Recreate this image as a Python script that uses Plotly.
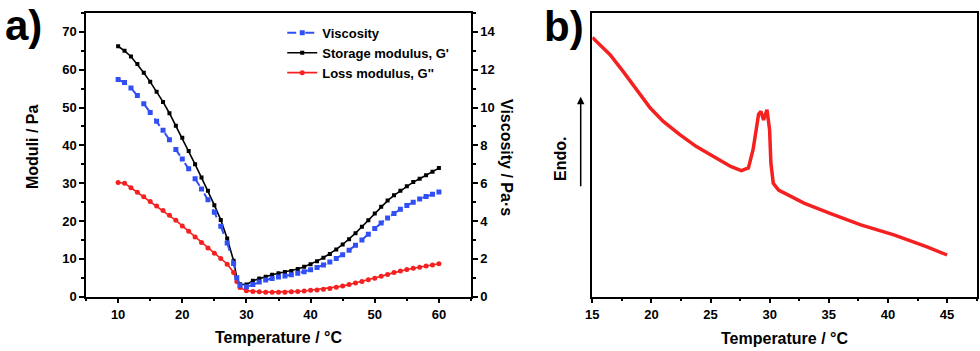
import plotly.graph_objects as go

# panel a) rheology vs temperature
temp = [10, 11, 12, 13, 14, 15, 16, 17, 18, 19, 20, 21, 22, 23, 24, 25, 26, 27, 28, 28.5, 29,
        30, 31, 32, 33, 34, 35, 36, 37, 38, 39, 40, 41, 42, 43, 44, 45, 46, 47, 48, 49, 50,
        51, 52, 53, 54, 55, 56, 57, 58, 59, 60]
storage = [66.2, 65.0, 63.5, 61.5, 59.2, 56.8, 54.2, 51.5, 48.5, 45.2, 42.0, 38.5, 35.0, 31.5,
           28.0, 24.2, 20.3, 15.4, 9.5, 5.0, 3.3, 3.2, 4.2, 4.8, 5.3, 5.8, 6.2, 6.5, 6.8, 7.3,
           7.9, 8.6, 9.4, 10.3, 11.3, 12.5, 13.8, 15.2, 16.8, 18.5, 20.2, 22.0, 23.8, 25.4,
           26.8, 28.0, 29.2, 30.3, 31.2, 32.1, 33.0, 34.0]
loss = [30.2, 30.0, 28.8, 27.6, 26.4, 25.2, 24.0, 22.8, 21.5, 20.2, 18.7, 17.3, 15.8, 14.3,
        12.9, 11.5, 10.1, 8.6, 6.4, 4.0, 2.4, 1.6, 1.4, 1.3, 1.2, 1.2, 1.2, 1.2, 1.3, 1.4, 1.5,
        1.7, 1.8, 2.0, 2.2, 2.5, 2.8, 3.2, 3.6, 4.0, 4.5, 4.9, 5.4, 5.9, 6.4, 6.8, 7.2, 7.5,
        7.8, 8.1, 8.4, 8.7]
viscosity = [11.48, 11.32, 11.04, 10.64, 10.2, 9.74, 9.28, 8.8, 8.3, 7.78, 7.28, 6.76, 6.24,
             5.7, 5.12, 4.46, 3.72, 2.84, 1.76, 1.0, 0.6, 0.52, 0.64, 0.78, 0.88, 0.96, 1.04,
             1.1, 1.16, 1.24, 1.32, 1.42, 1.54, 1.68, 1.84, 2.02, 2.22, 2.46, 2.72, 3.0, 3.3,
             3.6, 3.9, 4.16, 4.4, 4.62, 4.82, 5.0, 5.16, 5.3, 5.42, 5.54]

# panel b) DSC trace (arbitrary units)
dsc_temp = [15.0, 16.5, 17.6, 18.8, 19.9, 21.0, 22.4, 23.8, 25.2, 26.7, 27.6, 28.2, 28.6, 28.85,
            29.06, 29.26, 29.48, 29.77, 29.99, 30.1, 30.3, 30.75, 31.6, 32.9, 35.1, 37.7, 40.5,
            43.3, 45.0]
dsc_flow = [91.4, 85.3, 79.4, 72.9, 66.5, 61.8, 57.1, 52.9, 49.4, 45.9, 44.4, 45.4, 52.0, 58.0,
            64.3, 65.3, 62.3, 65.9, 58.8, 47.1, 40.0, 37.6, 35.8, 33.0, 29.4, 25.3, 21.8, 17.6,
            14.7]

FONT = "Liberation Sans, Arial, sans-serif"
BLUE = "#3050f5"
RED = "#f52020"

fig = go.Figure()
fig.add_trace(go.Scatter(
    x=temp, y=viscosity, name="Viscosity", mode="lines+markers", yaxis="y2",
    line=dict(color=BLUE, width=2, dash="dash"), marker=dict(symbol="square", size=5, color=BLUE),
))
fig.add_trace(go.Scatter(
    x=temp, y=storage, name="Storage modulus, G'", mode="lines+markers",
    line=dict(color="black", width=1.6), marker=dict(symbol="square", size=4, color="black"),
))
fig.add_trace(go.Scatter(
    x=temp, y=loss, name="Loss modulus, G''", mode="lines+markers",
    line=dict(color=RED, width=1.6), marker=dict(symbol="circle", size=5, color=RED),
))
fig.add_trace(go.Scatter(
    x=dsc_temp, y=dsc_flow, mode="lines", xaxis="x2", yaxis="y3", showlegend=False,
    line=dict(color=RED, width=3.5),
))

tickfont = dict(family=FONT, size=13, color="black", weight="bold")
axis_common = dict(showline=True, linecolor="black", linewidth=1.5, ticks="outside",
                   ticklen=5, tickwidth=1.5, tickcolor="black", showgrid=False,
                   zeroline=False, tickfont=tickfont, automargin=False)

fig.update_layout(
    width=980, height=351, margin=dict(l=0, r=0, t=0, b=0),
    plot_bgcolor="white", paper_bgcolor="white",
    xaxis=dict(domain=[0.0878, 0.4806], range=[5, 65], dtick=10, mirror=True,
               minor=dict(ticks="outside", ticklen=3, dtick=5, tickcolor="black", tickwidth=1.5),
               anchor="y", **axis_common),
    yaxis=dict(domain=[0.1547, 0.963], range=[0, 75], dtick=10, anchor="x",
               minor=dict(ticks="outside", ticklen=3, dtick=5, tickcolor="black", tickwidth=1.5),
               **axis_common),
    yaxis2=dict(overlaying="y", side="right", range=[0, 15], dtick=2, anchor="x",
                minor=dict(ticks="outside", ticklen=3, dtick=1, tickcolor="black", tickwidth=1.5),
                **axis_common),
    xaxis2=dict(domain=[0.6044, 0.9966], range=[15, 47.5], dtick=5, mirror=True, anchor="y3",
                minor=dict(ticks="outside", ticklen=3, dtick=2.5, tickcolor="black", tickwidth=1.5),
                **axis_common),
    yaxis3=dict(domain=[0.1547, 0.963], range=[0, 100], anchor="x2", mirror=True,
                showline=True, linecolor="black", linewidth=1.5, showgrid=False, zeroline=False,
                showticklabels=False, ticks="", automargin=False),
    legend=dict(x=0.288, y=0.949, xanchor="left", yanchor="top", bgcolor="rgba(0,0,0,0)",
                font=dict(family=FONT, size=13, color="black", weight="bold"),
                itemwidth=30, tracegroupgap=0),
    showlegend=True,
)

title_font = dict(family=FONT, size=16, color="black", weight="bold")


def label(text, x_px, y_px, angle=0, font=title_font):
    fig.add_annotation(text=text, x=x_px / 980, y=1 - y_px / 351, xref="paper", yref="paper",
                       xanchor="center", yanchor="middle", textangle=angle,
                       showarrow=False, font=font)


big = dict(family=FONT, size=42, color="black", weight="bold")
label("a)", 23, 25, font=big)
label("b)", 564, 27, font=big)
label("Moduli / Pa", 32, 147, angle=-90)
label("Viscosity / Pa·s", 507, 157, angle=90)
label("Temperature / °C", 278, 337)
label("Temperature / °C", 784, 338)
label("Endo.", 561, 159, angle=-90)
fig.add_annotation(text="", x=580.7 / 980, y=1 - 96.7 / 351, xref="paper", yref="paper",
                   showarrow=True, ax=0, ay=91, arrowhead=2, arrowsize=1, arrowwidth=1.5,
                   arrowcolor="black")

# drop the browser's default page margin so the figure sits at the window's corner
fig.write_html("out.html", config={"displayModeBar": False},
               post_script="document.body.style.margin='0';")
